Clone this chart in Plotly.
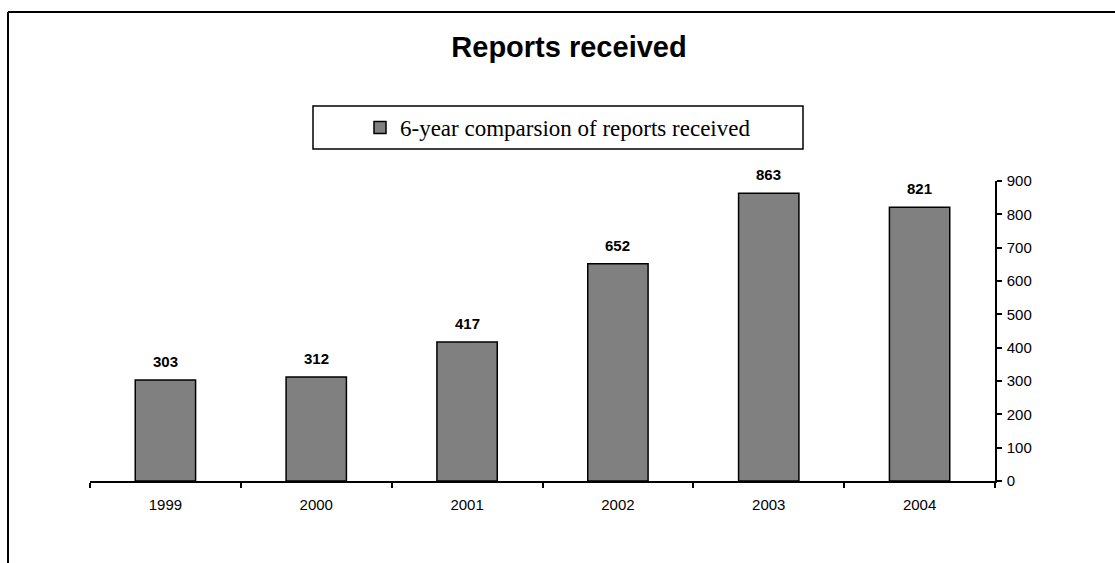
import plotly.graph_objects as go

# Annual report counts
years = ["1999", "2000", "2001", "2002", "2003", "2004"]
reports = [303, 312, 417, 652, 863, 821]
y_ticks = [0, 100, 200, 300, 400, 500, 600, 700, 800, 900]
series_name = "6-year comparsion of reports received"
chart_title = "Reports received"

W, H = 1115, 563
L, R, T, B = 90, 120, 181, 82
plot_w = W - L - R
plot_h = H - T - B


def px_x(x):
    return (x - L) / plot_w


def px_y(y):
    return (H - B - y) / plot_h


fig = go.Figure()
fig.add_trace(go.Bar(
    x=years,
    y=reports,
    name=series_name,
    width=0.4,
    marker=dict(color="#808080", line=dict(color="#000000", width=1.5)),
    showlegend=True,
))

# Value labels above bars (category index used for x so numeric-looking
# category names are not read as coordinates)
for i, v in enumerate(reports):
    fig.add_annotation(
        x=i, y=v, xref="x", yref="y",
        text=str(v), showarrow=False,
        yanchor="bottom", yshift=8,
        font=dict(family="Liberation Sans, Arial", size=15, color="#000000", weight="bold"),
    )

shapes = [
    # outer frame (top and left edges)
    dict(type="line", xref="paper", yref="paper",
         x0=px_x(8), x1=px_x(1125), y0=px_y(12), y1=px_y(12),
         line=dict(color="#000000", width=2)),
    dict(type="line", xref="paper", yref="paper",
         x0=px_x(8), x1=px_x(8), y0=px_y(12), y1=px_y(575),
         line=dict(color="#000000", width=2)),
    # legend box
    dict(type="rect", xref="paper", yref="paper",
         x0=px_x(313), x1=px_x(803), y0=px_y(149), y1=px_y(106),
         line=dict(color="#000000", width=1.5), fillcolor="rgba(0,0,0,0)"),
]

fig.update_layout(
    width=W, height=H,
    margin=dict(l=L, r=R, t=T, b=B, pad=0),
    paper_bgcolor="white", plot_bgcolor="white",
    title=dict(
        text=chart_title, x=px_x(569), xref="paper", xanchor="center",
        y=1 - 47 / H, yref="container", yanchor="middle",
        font=dict(family="Liberation Sans, Arial", size=29, color="#000000", weight="bold"),
    ),
    legend=dict(
        x=px_x(558), y=px_y(127.5), xanchor="center", yanchor="middle",
        orientation="h", bgcolor="rgba(0,0,0,0)", borderwidth=0,
        font=dict(family="Liberation Serif, Times New Roman", size=23, color="#000000"),
    ),
    shapes=shapes,
    bargap=0.6,
)

fig.update_xaxes(
    type="category", range=[-0.5, 5.5],
    showline=True, linecolor="#000000", linewidth=1.5,
    ticks="outside", tickson="boundaries", ticklen=5, tickwidth=1.5, tickcolor="#000000",
    ticklabelstandoff=9,
    showgrid=False, zeroline=False,
    tickfont=dict(family="Liberation Sans, Arial", size=15, color="#000000"),
)
fig.update_yaxes(
    side="right", range=[0, 900],
    tickvals=y_ticks, ticktext=[str(t) for t in y_ticks],
    showline=True, linecolor="#000000", linewidth=1.5,
    ticks="outside", ticklen=5, tickwidth=1.5, tickcolor="#000000",
    ticklabelstandoff=2,
    showgrid=False, zeroline=False,
    tickfont=dict(family="Liberation Sans, Arial", size=15, color="#000000"),
)

fig.write_html("out.html")
